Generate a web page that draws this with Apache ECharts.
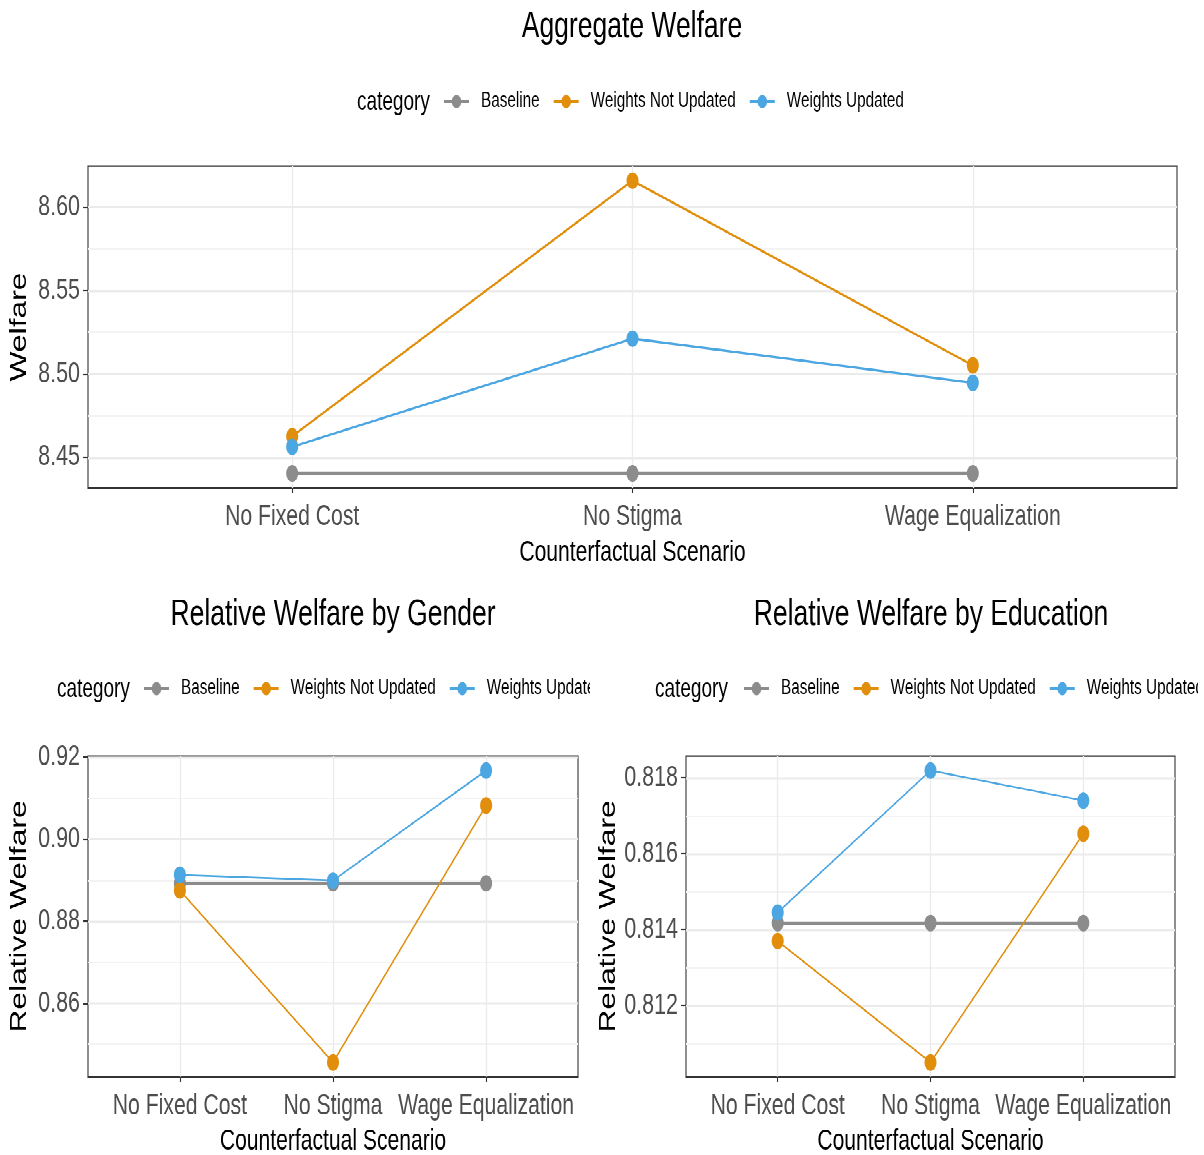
<!DOCTYPE html>
<html><head><meta charset="utf-8">
<script src="https://cdn.jsdelivr.net/npm/echarts@6/dist/echarts.min.js"></script>
<style>
html,body{margin:0;padding:0;background:#fff;width:1204px;height:1155px;}
#page{position:relative;width:1204px;height:1155px;overflow:hidden;background:#fff;}
#wrap{position:absolute;left:0;top:0;width:1204px;height:837px;background:#fff;transform:scaleY(1.38);transform-origin:0 0;}
.pan{position:absolute;overflow:hidden;}
</style></head><body>
<div id="page">
<div id="wrap">
<div id="c1" class="pan" style="left:0;top:0;width:1204px;height:417px"></div>
<div id="c2" class="pan" style="left:0;top:417px;width:590px;height:420px"></div>
<div id="c3" class="pan" style="left:598px;top:417px;width:600px;height:420px"></div>
</div>
</div>
<script>
// ---- data ----
const categories = ['No Fixed Cost', 'No Stigma', 'Wage Equalization'];
const seriesNames = ['Baseline', 'Weights Not Updated', 'Weights Updated'];
const seriesColors = ['#8c8c8c', '#e08e0b', '#4ba6e2'];

const aggBaseline   = [8.4403, 8.4403, 8.4403];
const aggNotUpdated = [8.4625, 8.6159, 8.5051];
const aggUpdated    = [8.4562, 8.5211, 8.4946];
const aggTicks  = [8.45, 8.50, 8.55, 8.60];
const aggMinors = [8.475, 8.525, 8.575];

const genBaseline   = [0.8892, 0.8892, 0.8892];
const genNotUpdated = [0.8875, 0.8456, 0.9082];
const genUpdated    = [0.8913, 0.8899, 0.9167];
const genTicks  = [0.86, 0.88, 0.90, 0.92];
const genMinors = [0.85, 0.87, 0.89, 0.91];

const eduBaseline   = [0.81417, 0.81417, 0.81417];
const eduNotUpdated = [0.81370, 0.81051, 0.81652];
const eduUpdated    = [0.81445, 0.81818, 0.81739];
const eduTicks  = [0.812, 0.814, 0.816, 0.818];
const eduMinors = [0.811, 0.813, 0.815, 0.817];

const SANS = "'Liberation Sans',Arial,Helvetica,sans-serif";

function panel(elId, o) {
  const chart = echarts.init(document.getElementById(elId), null, {renderer: 'canvas', devicePixelRatio: 2});
  const all = [].concat(o.vals[0], o.vals[1], o.vals[2]);
  const lo = Math.min.apply(null, all), hi = Math.max.apply(null, all);
  const pad = (hi - lo) * 0.05;
  const yMin = lo - pad, yMax = hi + pad;
  const idx = categories.map((c, i) => i);
  const pts = arr => arr.map((v, i) => [idx[i], v]);
  const series = seriesNames.map((n, k) => ({
    name: n, type: 'line', data: pts(o.vals[k]),
    symbol: 'circle', symbolSize: 12,
    itemStyle: {color: seriesColors[k]},
    lineStyle: {color: seriesColors[k], width: k === 0 ? 2.2 : o.lw},
    z: 3 + k
  }));
  chart.setOption({
    animation: false,
    backgroundColor: '#fff',
    title: [
      {text: o.title, left: o.titleX, top: o.titleY, textAlign: 'center', textVerticalAlign: 'middle', padding: 0,
       textStyle: {fontFamily: SANS, fontSize: 26.5, fontWeight: 'normal', color: '#000'}},
      {text: 'category', left: o.catX, top: o.legY, textVerticalAlign: 'middle', padding: 0,
       textStyle: {fontFamily: SANS, fontSize: 19, fontWeight: 'normal', color: '#000'}}
    ],
    legend: {
      left: o.legX, top: o.legY - 8.5, width: 2000, padding: 0, itemWidth: 25, itemHeight: 12, itemGap: 13,
      textStyle: {fontFamily: SANS, fontSize: 15.3, color: '#000', padding: [0, 0, 0, 7]},
      data: seriesNames
    },
    grid: {left: o.grid[0], top: o.grid[1], width: o.grid[2], height: o.grid[3],
           outerBoundsMode: 'none', containLabel: false,
           show: true, borderColor: '#333', borderWidth: 1.1, backgroundColor: '#fff'},
    xAxis: {
      type: 'value', min: -0.6, max: 2.6,
      name: 'Counterfactual Scenario', nameLocation: 'middle', nameGap: 36.5, nameMoveOverlap: false,
      nameTextStyle: {fontFamily: SANS, fontSize: 21.1, color: '#000'},
      axisLine: {show: false, onZero: false},
      axisTick: {show: true, customValues: idx, length: 3.6, lineStyle: {color: '#333', width: 1.1}},
      axisLabel: {customValues: idx, formatter: v => categories[Math.round(v)], margin: 10.5, hideOverlap: false,
                  fontFamily: SANS, fontSize: 21.2, color: '#4d4d4d'},
      splitLine: {show: true, lineStyle: {color: '#ebebeb', width: 1.3}}
    },
    yAxis: [{
      type: 'value', min: yMin, max: yMax,
      name: o.yName, nameLocation: 'middle', nameRotate: 90, nameGap: o.nameGap, nameMoveOverlap: false,
      nameTextStyle: {fontFamily: SANS, fontSize: 23, color: '#000'},
      axisLine: {show: false, onZero: false},
      axisTick: {show: true, customValues: o.ticks, length: 5, lineStyle: {color: '#333', width: 1.1}},
      axisLabel: {customValues: o.ticks, formatter: v => v.toFixed(o.dec), margin: 8, hideOverlap: false,
                  fontFamily: SANS, fontSize: 21.5, color: '#4d4d4d'},
      splitLine: {show: true, lineStyle: {color: '#ebebeb', width: 1.6}}
    }, {
      type: 'value', min: yMin, max: yMax, position: 'right',
      axisLine: {show: false, onZero: false},
      axisTick: {show: false, customValues: o.minors},
      axisLabel: {show: false},
      splitLine: {show: true, lineStyle: {color: '#f3f3f3', width: 0.9}}
    }],
    series: series
  });
}

panel('c1', {
  title: 'Aggregate Welfare', titleX: 632, titleY: 19.7,
  catX: 357, legX: 443, legY: 74.5,
  grid: [88, 120.3, 1089, 233.3],
  yName: 'Welfare', nameGap: 57, ticks: aggTicks, minors: aggMinors, dec: 2, lw: 1.7,
  vals: [aggBaseline, aggNotUpdated, aggUpdated]
});
panel('c2', {
  title: 'Relative Welfare by Gender', titleX: 333, titleY: 28.7,
  catX: 57, legX: 143, legY: 83,
  grid: [88, 130.8, 490, 232.6],
  yName: 'Relative Welfare', nameGap: 57, ticks: genTicks, minors: genMinors, dec: 2, lw: 1.3,
  vals: [genBaseline, genNotUpdated, genUpdated]
});
panel('c3', {
  title: 'Relative Welfare by Education', titleX: 333, titleY: 28.7,
  catX: 57, legX: 145, legY: 83,
  grid: [88, 130.8, 489, 232.6],
  yName: 'Relative Welfare', nameGap: 66, ticks: eduTicks, minors: eduMinors, dec: 3, lw: 1.3,
  vals: [eduBaseline, eduNotUpdated, eduUpdated]
});
</script>
</body></html>
